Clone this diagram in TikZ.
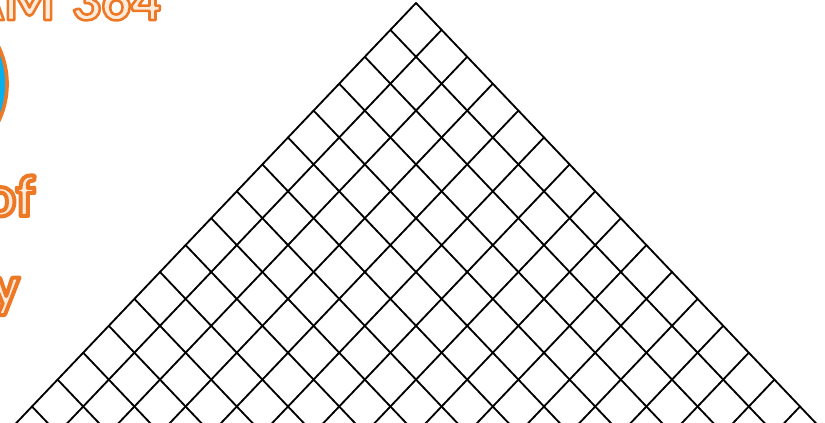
\documentclass[tikz,border=0pt]{standalone}
\usepackage{fontspec}
\setsansfont{Carlito}
\usepackage{tikz}
\usetikzlibrary{calc}
\definecolor{titleorange}{rgb}{0.93, 0.47, 0.15}
\definecolor{paleorange}{rgb}{1.00, 0.92, 0.86}
\definecolor{logoblue}{rgb}{0.02, 0.69, 0.93}
% pale letters with an orange rim
\newcommand{\rimtext}[2]{\textcolor{paleorange}{\special{pdf:literal direct 2 Tr #1 w 1 j 0.93 0.47 0.15 RG}#2\special{pdf:literal direct 0 Tr}}}
\tikzset{
  gridline/.style={
    line width=0.55mm,
    black,
    line cap=round
  },
  titletext/.style={
    anchor=base east,
    inner sep=0pt,
    text=titleorange,
    font=\sffamily\bfseries
  }
}

\begin{document}
\begin{tikzpicture}[x=0.3mm, y=-0.3mm]
\useasboundingbox (0,0) rectangle (825,423);
\clip (0,0) rectangle (825,423);
% fragments of the slide title on the left
\node[titletext, font=\sffamily\bfseries\fontsize{50}{50}\selectfont] (course) at (161,20) {\rimtext{2.2}{AM\hspace{5mm}364}};
\node[circle, draw=titleorange, line width=1.1mm, fill=logoblue, minimum size=172*0.3mm] (logo) at (-79,84) {};
\node[titletext, font=\sffamily\bfseries\fontsize{50}{50}\selectfont] (wordof) at (35,216) {\rimtext{3.4}{of}};
\node[titletext, font=\sffamily\bfseries\fontsize{50}{50}\selectfont] (wordy) at (20,306) {\rimtext{3.4}{y}};
% the lattice
\coordinate (apex) at (416,3);
\foreach \k in {0,...,16}{
  \coordinate (L\k) at ($(apex)+(-25.6*\k,26.9*\k)$);
  \coordinate (R\k) at ($(apex)+(25.6*\k,26.9*\k)$);
  \draw[gridline] (L\k) -- ++(25.6*20,26.9*20);
  \draw[gridline] (R\k) -- ++(-25.6*20,26.9*20);
}
\end{tikzpicture}
\end{document}
